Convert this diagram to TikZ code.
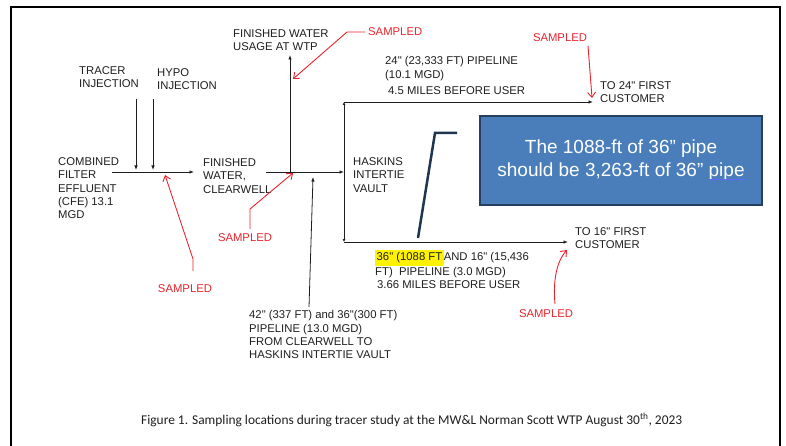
\documentclass[tikz,border=0pt]{standalone}
\usepackage{fontspec}
\setmainfont{Liberation Sans}
\newfontfamily\capfont{Carlito}
\usetikzlibrary{arrows.meta}
\definecolor{txt}{HTML}{1E1E1E}
\definecolor{redl}{HTML}{E8232B}
\definecolor{boxfill}{HTML}{4A7EBB}
\definecolor{boxdraw}{HTML}{253F5E}
\definecolor{navy}{HTML}{1F3550}
\definecolor{hl}{HTML}{FFF200}
\newsavebox\myulbox
\newcommand\blueul[1]{\sbox\myulbox{#1}\rlap{\usebox\myulbox}\textcolor{blue!60}{\rule[-2.5pt]{\wd\myulbox}{0.6pt}}}
\newcommand\hlbox[1]{{\setlength{\fboxsep}{1.5pt}\colorbox{hl}{\strut#1}}}
\tikzset{
  lbl/.style={font=\fontsize{11.3}{13.3}\selectfont, text=txt, align=left, inner sep=0pt, anchor=north west},
  smp/.style={font=\fontsize{11.3}{13.3}\selectfont, text=redl, inner sep=0pt},
  flow/.style={draw=txt, line width=0.8pt, -{Latex[length=4.5pt,width=3.5pt]}},
  redarr/.style={draw=redl, line width=0.9pt, -{Straight Barb[length=5pt,width=8pt]}},
}
\begin{document}
\begin{tikzpicture}[x=1pt,y=-1pt]
\useasboundingbox (0,0) rectangle (786,446);
% frame
\draw[line width=2pt, black] (11,450) -- (11,7) -- (780,7) -- (780,450);

% text nodes
\node[lbl] (fwu) at (233,29.5) {FINISHED WATER\\USAGE AT WTP};
\node[lbl] (tracer) at (79,66.5) {TRACER\\INJECTION};
\node[lbl] (hypo) at (157,68) {HYPO\\INJECTION};
\node[lbl] (cfe) at (58,157.5) {COMBINED\\FILTER\\EFFLUENT\\(CFE) 13.1\\MGD};
\node[lbl] (fwc) at (203,158.5) {FINISHED\\WATER,\\CLEARWELL};
\node[lbl] (hask) at (353,157.5) {HASKINS\\INTERTIE\\VAULT};
\node[lbl] (p24) at (385,56.5) {24\textquotedbl{} (23,333 FT) PIPELINE\\(10.1 MGD)};
\node[lbl] (p24b) at (388,86.5) {4.5 MILES BEFORE USER};
\node[lbl] (to24) at (600,81.5) {TO 24\textquotedbl{} FIRST\\CUSTOMER};
\node[lbl] (to16) at (575,227.5) {TO 16\textquotedbl{} FIRST\\CUSTOMER};
\node[lbl] (p16) at (375,249.5) {\hlbox{36\textquotedbl{} (1088 FT}AND 16\textquotedbl{} (15,436\\FT)~~PIPELINE (3.0 MGD)};
\node[lbl] (p16b) at (377,280.5) {3.66 MILES BEFORE USER};
\node[lbl] (p42) at (249,310.5) {42\textquotedbl{} (337 FT) and 36\textquotedbl(300 FT)\\PIPELINE (13.0 MGD)\\FROM CLEARWELL TO\\HASKINS INTERTIE VAULT};

% sampled labels
\node[smp, anchor=west] (s1) at (368,32) {SAMPLED};
\node[smp] (s2) at (560,38) {SAMPLED};
\node[smp] (s3) at (245,238) {SAMPLED};
\node[smp] (s4) at (185,289) {SAMPLED};
\node[smp] (s5) at (546,314) {SAMPLED};

% junction coordinates
\coordinate (c0) at (112,172);
\coordinate (c1) at (194,172);
\coordinate (t0) at (136,99);
\coordinate (t1) at (136,170);
\coordinate (h0) at (153,99);
\coordinate (h1) at (153,170);
\coordinate (c2) at (266,172);
\coordinate (vm) at (344,172);
\coordinate (u0) at (290,172);
\coordinate (u1) at (290,55);
\coordinate (b0) at (309,307);
\coordinate (b1) at (313,177);
\coordinate (vt) at (344,102);
\coordinate (vb) at (344,242);
\coordinate (e24) at (593,102);
\coordinate (e16) at (568,242);

% flow lines
\draw[flow] (c0) -- (c1);
\draw[flow] (t0) -- (t1);
\draw[flow] (h0) -- (h1);
\draw[flow] (c2) -- (vm);
\draw[flow] (u0) -- (u1);
\draw[flow] (b0) -- (b1);
\draw[flow, -{Latex[length=3pt,width=3pt]}] (vm) -- (vt);
\draw[flow, -{Latex[length=3pt,width=3pt]}] (vm) -- (vb);
\draw[flow] (vt) -- (e24);
\draw[flow] (vb) -- (e16);

% red sampling arrows
\coordinate (r1a) at (347,32);
\coordinate (r1b) at (293,79);
\draw[redarr, shorten <=3pt] (s1.west) -- (r1a) -- (r1b);
\coordinate (r2b) at (592,98);
\draw[redarr] (588,46) -- (r2b);
\coordinate (r3a) at (250,229);
\coordinate (r3m) at (250,209);
\coordinate (r3b) at (293,173);
\draw[redarr] (r3a) -- (r3m) -- (r3b);
\coordinate (r4a) at (193,271);
\coordinate (r4m) at (193,259);
\coordinate (r4b) at (165,175);
\draw[redarr] (r4a) -- (r4m) -- (r4b);
\coordinate (r5a) at (555,304);
\coordinate (r5b) at (567,250);
\draw[redarr] (r5a) .. controls (553,282) and (556,262) .. (r5b);

% callout
\node[draw=boxdraw, line width=2pt, fill=boxfill, minimum width=282pt, minimum height=89pt, inner sep=0pt,
      text=white, align=center, font=\fontsize{19}{23}\selectfont] (note) at (621,160.5)
      {The 1088-ft of 36\textquotedblright{} pipe\\should be 3,263-ft of 36\textquotedblright{} \blueul{pipe}};
\coordinate (n0) at (457,133);
\coordinate (n1) at (435,133);
\coordinate (n2) at (418,238);
\draw[navy, line width=2.5pt] (n0) -- (n1) -- (n2);

% caption
\node[font=\capfont\fontsize{13.4}{16}\selectfont, text=txt, anchor=west, inner sep=0pt] (cap) at (141,420)
  {Figure 1. Sampling locations during tracer study at the MW\&L Norman Scott WTP August 30\textsuperscript{th}, 2023};
\end{tikzpicture}
\end{document}
